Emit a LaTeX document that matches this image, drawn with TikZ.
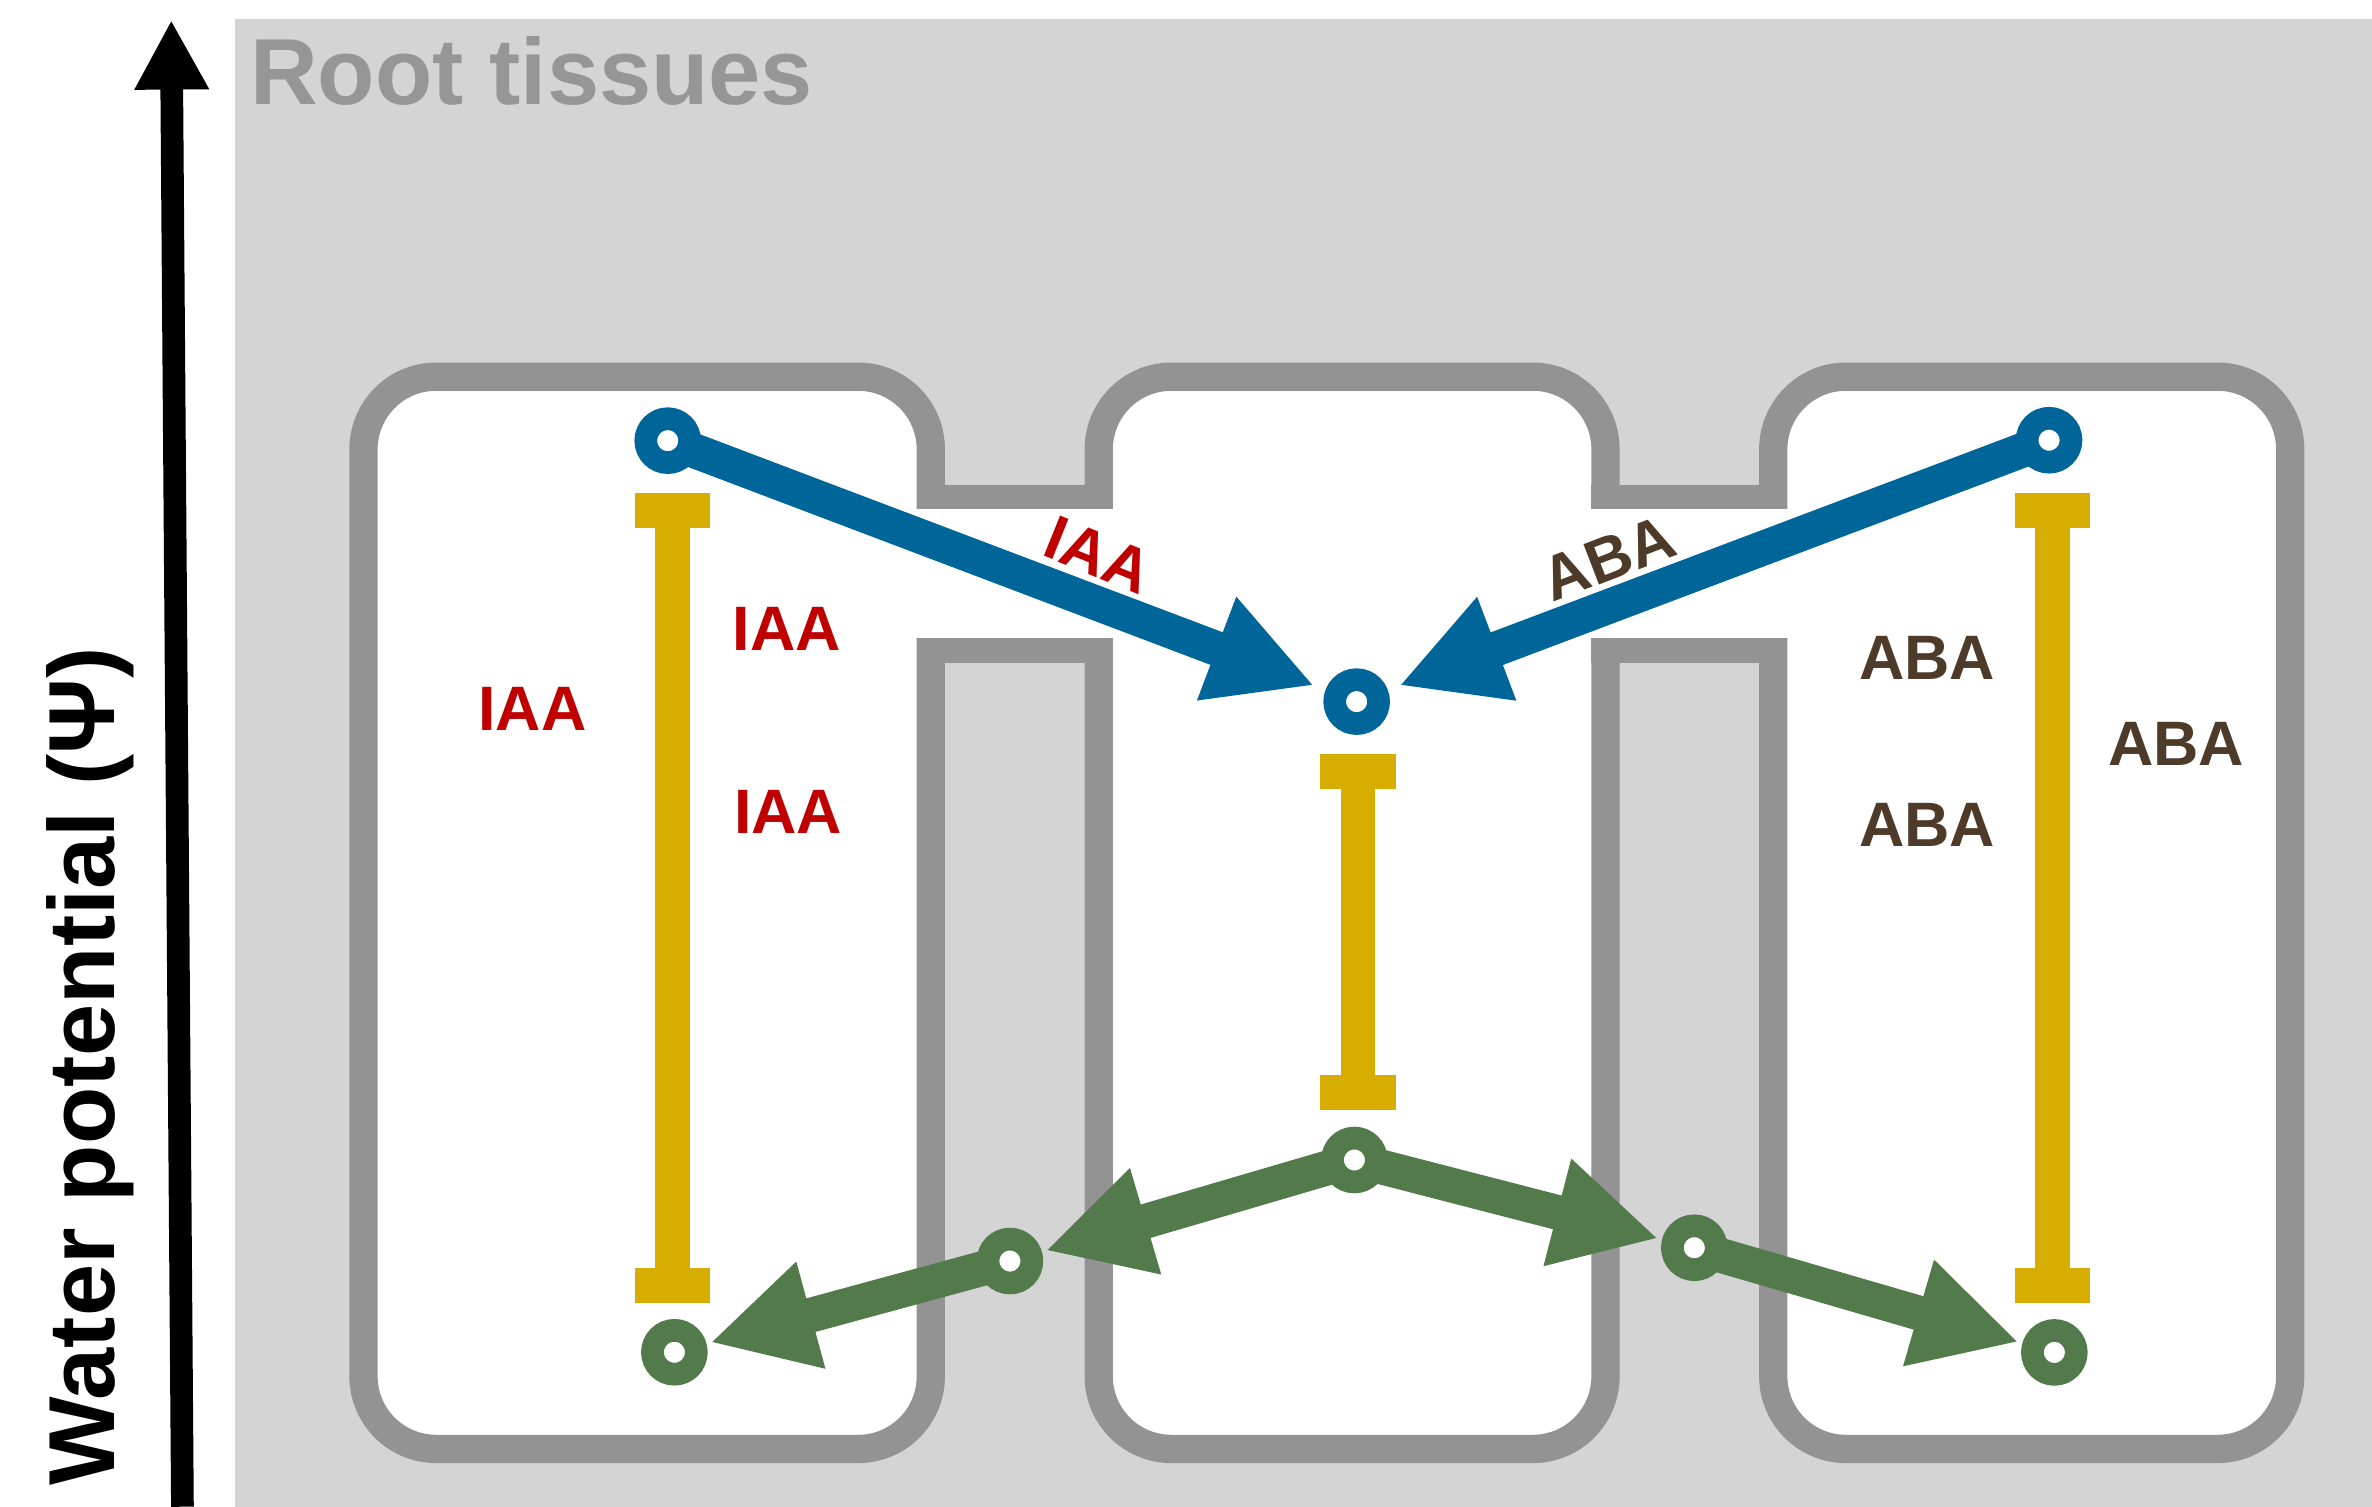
\documentclass[tikz,border=0pt]{standalone}
\usepackage{fontspec}
\setmainfont{Liberation Sans}
\usetikzlibrary{arrows.meta}
\definecolor{bggray}{RGB}{212,212,212}
\definecolor{wallgray}{RGB}{147,147,147}
\definecolor{titlegray}{RGB}{150,150,150}
\definecolor{rblue}{RGB}{0,102,153}
\definecolor{rgreen}{RGB}{82,122,74}
\definecolor{rgold}{RGB}{214,173,0}
\definecolor{rred}{RGB}{192,0,0}
\definecolor{rbrown}{RGB}{77,58,40}
\pgfdeclarelayer{cells}
\pgfdeclarelayer{conn}
\pgfsetlayers{cells,conn,main}
\tikzset{
  cellwall/.style={draw=wallgray, fill=white, line width=18.7pt, rounded corners=48pt},
  chanwall/.style={draw=wallgray, line width=16pt},
  ring/.style={circle, minimum size=29pt, inner sep=0pt, line width=15pt, outer sep=7.5pt, fill=white},
  bluering/.style={ring, draw=rblue},
  greenring/.style={ring, draw=rgreen},
  flowarrow/.style={line width=23pt, -{Triangle[length=69pt,width=68pt]}},
  bluearrow/.style={flowarrow, draw=rblue, shorten >=8pt},
  greenarrow/.style={flowarrow, draw=rgreen, shorten >=2.5pt},
  goldcap/.style={rectangle, fill=rgold, minimum width=50pt, minimum height=23pt, inner sep=0pt, outer sep=0pt},
  goldshaft/.style={draw=rgold, line width=23pt},
  lbl/.style={inner sep=0pt, font=\bfseries\fontsize{41.5}{45}\selectfont},
  iaa/.style={lbl, text=rred},
  aba/.style={lbl, text=rbrown},
  axisarrow/.style={draw=black, line width=15pt, -{Triangle[length=46pt,width=46pt]}}
}
\begin{document}
\begin{tikzpicture}[x=1pt, y=-1pt]
\useasboundingbox (0,0) rectangle (1568,996);

\begin{pgfonlayer}{cells}
  % background
  \fill[bggray] (155.3,12.6) rectangle (1568,996);
  % cells
  \draw[cellwall] (240.3,249) rectangle (615.3,957.8);
  \draw[cellwall] (726.3,249) rectangle (1061.3,957.8);
  \draw[cellwall] (1172.2,249) rectangle (1513.9,957.8);
  % channel 1
  \fill[white] (605.5,336.5) rectangle (736.2,421.5);
  \draw[chanwall, line width=15.5pt] (605.95,328.5) -- (735.65,328.5);
  \draw[chanwall, line width=17pt] (605.95,430) -- (735.65,430);
  % channel 2
  \fill[white] (1051.5,336.5) rectangle (1182,421.5);
  \draw[chanwall, line width=15.5pt] (1051.95,328.5) -- (1181.55,328.5);
  \draw[chanwall, line width=17pt] (1051.95,430) -- (1181.55,430);
\end{pgfonlayer}

% axis arrow and labels
\coordinate (axbot) at (120.6,996);
\coordinate (axtop) at (113.2,13.2);
\draw[axisarrow] (axbot) -- (axtop);
\node[anchor=base west, inner sep=0pt, rotate=90,
      font=\bfseries\fontsize{62}{70}\selectfont] (wp) at (76,982) {Water potential (Ψ)};
\node[anchor=base west, inner sep=0pt, text=titlegray,
      font=\bfseries\fontsize{62}{70}\selectfont] (title) at (165.2,68.8) {Root tissues};

% gold bars
\node[goldcap] (ltop) at (444.5,337.5) {};
\node[goldcap] (lbot) at (444.5,849.5) {};
\node[goldcap] (mtop) at (897.7,510) {};
\node[goldcap] (mbot) at (897.7,722.2) {};
\node[goldcap] (rtop) at (1356.8,337.5) {};
\node[goldcap] (rbot) at (1356.8,849.5) {};
\draw[goldshaft] (ltop) -- (lbot);
\draw[goldshaft] (mtop) -- (mbot);
\draw[goldshaft] (rtop) -- (rbot);

% rings
\node[bluering] (bL) at (441.4,291.3) {};
\node[bluering] (bR) at (1354.5,291) {};
\node[bluering] (bM) at (896.8,463.8) {};
\node[greenring] (gM) at (895.3,766.8) {};
\node[greenring] (gL1) at (667.6,833.6) {};
\node[greenring] (gL2) at (445.8,893.9) {};
\node[greenring] (gR1) at (1120,824.8) {};
\node[greenring] (gR2) at (1358,894) {};

% connectors
\begin{pgfonlayer}{conn}
  \draw[bluearrow] (bL.center) -- (bM);
  \draw[bluearrow] (bR.center) -- (bM);
  \draw[greenarrow] (gM.center) -- (gL1);
  \draw[greenarrow] (gL1.center) -- (gL2);
  \draw[greenarrow] (gM.center) -- (gR1);
  \draw[greenarrow] (gR1.center) -- (gR2);
\end{pgfonlayer}

% hormone labels
\node[iaa, anchor=base] (iaa1) at (351.9,482.6) {IAA};
\node[iaa, anchor=base] (iaa2) at (520.2,429.7) {IAA};
\node[iaa, anchor=base] (iaa3) at (521,551) {IAA};
\node[iaa, rotate=-22] (iaa4) at (726,367) {IAA};
\node[aba, anchor=base] (aba1) at (1274,449.5) {ABA};
\node[aba, anchor=base] (aba2) at (1274,559.7) {ABA};
\node[aba, anchor=base] (aba3) at (1438.5,506) {ABA};
\node[aba, rotate=21] (aba4) at (1063.4,369) {ABA};
\end{tikzpicture}
\end{document}
